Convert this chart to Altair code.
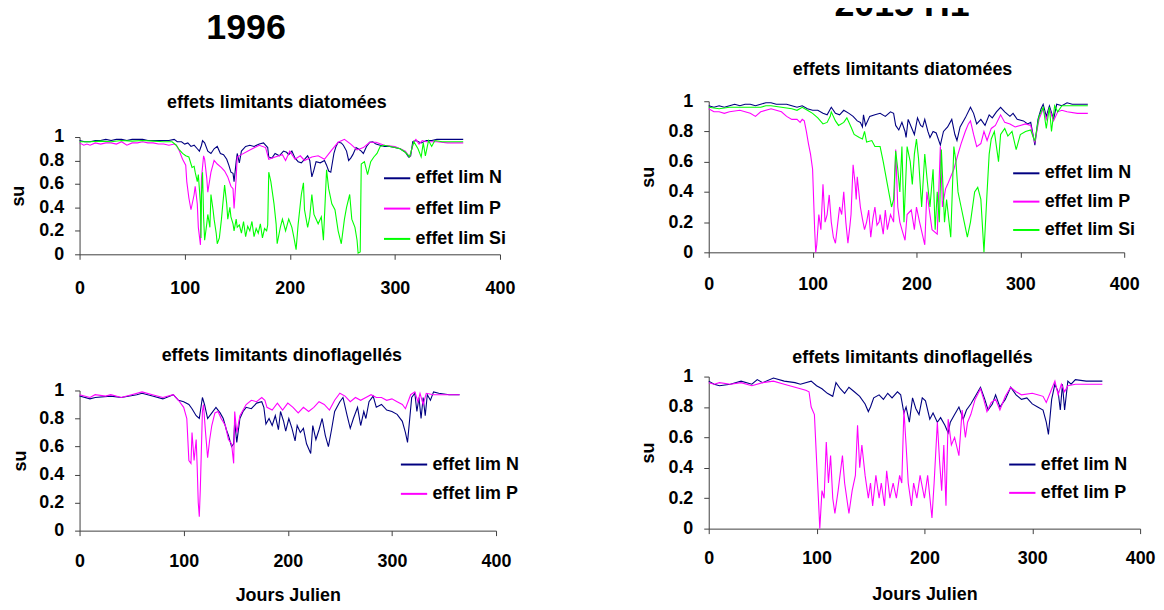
import altair as alt
import pandas as pd

SERIES = ["effet lim N", "effet lim P", "effet lim Si"]
COLORS = ["#000080", "#FF00FF", "#00FF00"]
X_TICKS = [0, 100, 200, 300, 400]
Y_TICKS = [0, 0.2, 0.4, 0.6, 0.8, 1]

# ---------- 1996, diatomées ----------
dia96_N_days = [0, 5, 10, 15, 20, 25, 30, 35, 40, 45, 50, 55, 60, 65, 70, 75, 80, 85, 90, 93, 97, 100, 103, 106, 109, 112, 114, 116, 117, 119, 122, 125, 128, 131, 134, 137, 140, 142, 144, 146, 147, 149, 150, 152, 154, 158, 162, 166, 171, 175, 179, 180, 183, 186, 190, 194, 197, 199, 202, 205, 208, 211, 214, 217, 219, 221, 223, 225, 229, 233, 235, 237, 239, 242, 244, 246, 249, 251, 254, 256, 258, 260, 263, 265, 268, 270, 273, 276, 279, 282, 286, 290, 295, 300, 305, 310, 313, 315, 317, 320, 325, 330, 335, 340, 345, 350, 355, 360, 365]
dia96_N_vals = [0.97, 0.96, 0.96, 0.97, 0.97, 0.98, 0.97, 0.98, 0.98, 0.97, 0.98, 0.98, 0.98, 0.97, 0.97, 0.97, 0.97, 0.97, 0.98, 0.96, 0.96, 0.94, 0.95, 0.92, 0.93, 0.90, 0.88, 0.93, 0.97, 0.95, 0.88, 0.86, 0.90, 0.92, 0.86, 0.85, 0.81, 0.76, 0.70, 0.69, 0.62, 0.79, 0.86, 0.78, 0.88, 0.92, 0.93, 0.92, 0.94, 0.95, 0.91, 0.83, 0.82, 0.86, 0.84, 0.88, 0.87, 0.85, 0.88, 0.82, 0.79, 0.78, 0.81, 0.84, 0.80, 0.66, 0.72, 0.79, 0.78, 0.80, 0.76, 0.71, 0.70, 0.86, 0.92, 0.955, 0.95, 0.93, 0.88, 0.80, 0.82, 0.85, 0.91, 0.90, 0.88, 0.86, 0.92, 0.955, 0.96, 0.94, 0.93, 0.92, 0.92, 0.91, 0.90, 0.87, 0.83, 0.84, 0.96, 0.97, 0.95, 0.97, 0.97, 0.98, 0.98, 0.98, 0.98, 0.98, 0.98]

dia96_P_days = [0, 4, 7, 10, 15, 20, 25, 30, 35, 40, 45, 50, 55, 60, 65, 70, 75, 80, 85, 90, 92, 95, 98, 101, 102, 104, 106, 109, 110, 112, 113, 115, 116, 118, 119, 121, 122, 125, 128, 131, 135, 138, 141, 144, 146, 147, 149, 150, 154, 162, 171, 177, 180, 186, 193, 196, 200, 205, 210, 214, 221, 227, 233, 240, 246, 252, 258, 264, 270, 276, 282, 290, 300, 305, 310, 314, 318, 320, 323, 326, 330, 340, 350, 365]
dia96_P_vals = [0.95, 0.93, 0.94, 0.93, 0.95, 0.94, 0.95, 0.95, 0.94, 0.96, 0.93, 0.95, 0.95, 0.96, 0.95, 0.95, 0.94, 0.94, 0.93, 0.94, 0.93, 0.88, 0.81, 0.76, 0.62, 0.48, 0.38, 0.51, 0.58, 0.43, 0.23, 0.08, 0.65, 0.84, 0.81, 0.65, 0.53, 0.70, 0.80, 0.77, 0.74, 0.71, 0.66, 0.58, 0.56, 0.39, 0.65, 0.83, 0.85, 0.89, 0.93, 0.91, 0.81, 0.83, 0.85, 0.80, 0.88, 0.81, 0.84, 0.80, 0.83, 0.84, 0.81, 0.89, 0.955, 0.98, 0.94, 0.89, 0.91, 0.955, 0.955, 0.93, 0.92, 0.90, 0.88, 0.83, 0.96, 0.98, 0.94, 0.97, 0.96, 0.96, 0.95, 0.95]

dia96_Si_days = [0, 10, 20, 30, 40, 50, 60, 70, 80, 88, 92, 95, 98, 101, 104, 107, 109, 110, 112, 113, 115, 115.5, 116, 117, 118, 119, 121, 122, 124, 125, 127, 128, 130, 131, 133, 135, 136, 138, 140, 141, 143, 144, 146, 147, 149, 150, 152, 154, 156, 158, 160, 162, 164, 166, 168, 170, 172, 174, 176, 178, 179, 180, 182, 185, 187, 188, 191, 193, 196, 199, 202, 204, 206, 208, 211, 213, 214, 217, 219, 221, 223, 227, 230, 232, 235, 237, 240, 243, 246, 249, 252, 254, 257, 259, 262, 264, 265, 267, 268, 271, 274, 277, 280, 283, 286, 290, 300, 305, 310, 314, 318, 322, 325, 327, 329, 332, 335, 338, 345, 355, 365]
dia96_Si_vals = [0.96, 0.96, 0.965, 0.96, 0.97, 0.965, 0.97, 0.965, 0.96, 0.96, 0.93, 0.89, 0.86, 0.84, 0.83, 0.74, 0.75, 0.70, 0.62, 0.68, 0.43, 0.14, 0.51, 0.70, 0.32, 0.12, 0.26, 0.34, 0.23, 0.51, 0.38, 0.30, 0.18, 0.09, 0.14, 0.30, 0.40, 0.59, 0.43, 0.30, 0.40, 0.32, 0.26, 0.20, 0.30, 0.23, 0.25, 0.18, 0.28, 0.15, 0.24, 0.20, 0.28, 0.15, 0.22, 0.18, 0.26, 0.14, 0.22, 0.20, 0.25, 0.70, 0.62, 0.43, 0.26, 0.09, 0.23, 0.30, 0.20, 0.30, 0.23, 0.14, 0.04, 0.26, 0.51, 0.61, 0.38, 0.23, 0.32, 0.51, 0.34, 0.26, 0.32, 0.12, 0.72, 0.56, 0.43, 0.38, 0.20, 0.09, 0.30, 0.40, 0.51, 0.30, 0.23, 0.12, 0.01, 0.02, 0.77, 0.79, 0.68, 0.79, 0.83, 0.86, 0.92, 0.93, 0.91, 0.90, 0.87, 0.83, 0.96, 0.90, 0.83, 0.95, 0.84, 0.97, 0.92, 0.97, 0.96, 0.96, 0.96]

# ---------- 2015 H1, diatomées ----------
dia15_N_days = [0, 5, 10, 15, 20, 25, 30, 35, 40, 45, 50, 55, 60, 65, 70, 75, 80, 85, 90, 95, 100, 105, 110, 114, 118, 122, 126, 130, 135, 139, 143, 146, 148, 149, 151, 155, 160, 165, 170, 175, 178, 180, 183, 186, 189, 190, 192, 195, 198, 201, 204, 206, 208, 211, 213, 216, 219, 223, 226, 230, 234, 237, 239, 242, 247, 252, 255, 258, 262, 266, 270, 273, 277, 281, 285, 290, 293, 297, 303, 307, 310, 313, 314, 317, 320, 322, 325, 328, 332, 335, 340, 345, 350, 355, 360, 365]
dia15_N_vals = [0.97, 0.96, 0.97, 0.96, 0.97, 0.98, 0.97, 0.98, 0.98, 0.97, 0.98, 0.99, 0.99, 0.98, 0.98, 0.98, 0.97, 0.96, 0.97, 0.95, 0.94, 0.94, 0.92, 0.91, 0.96, 0.92, 0.91, 0.94, 0.92, 0.90, 0.87, 0.86, 0.83, 0.91, 0.84, 0.90, 0.91, 0.92, 0.90, 0.93, 0.92, 0.84, 0.81, 0.86, 0.80, 0.76, 0.88, 0.83, 0.78, 0.89, 0.84, 0.83, 0.88, 0.80, 0.76, 0.80, 0.79, 0.71, 0.80, 0.83, 0.88, 0.78, 0.74, 0.83, 0.89, 0.96, 0.92, 0.85, 0.88, 0.84, 0.91, 0.89, 0.93, 0.96, 0.93, 0.90, 0.92, 0.88, 0.87, 0.85, 0.86, 0.75, 0.71, 0.88, 0.95, 0.98, 0.90, 0.97, 0.88, 0.98, 0.97, 0.99, 0.98, 0.98, 0.98, 0.98]

dia15_P_days = [0, 5, 10, 15, 20, 30, 40, 45, 50, 60, 70, 75, 80, 85, 88, 90, 92, 94, 96, 98, 100, 101, 102, 103, 104, 106, 108, 110, 112, 114, 116, 118, 120, 122, 124, 126, 128, 130, 132, 134, 136, 137, 139, 141, 142, 143, 146, 148, 150, 152, 154, 156, 158, 160, 162, 164, 165, 168, 170, 172, 175, 178, 180, 182, 184, 186, 189, 191, 195, 198, 200, 203, 208, 210, 212, 215, 220, 223, 225, 228, 230, 233, 236, 240, 243, 247, 250, 252, 255, 258, 262, 265, 268, 272, 276, 281, 285, 290, 295, 300, 305, 310, 313, 314, 318, 322, 325, 328, 332, 336, 340, 345, 355, 365]
dia15_P_vals = [0.95, 0.93, 0.93, 0.92, 0.93, 0.94, 0.92, 0.90, 0.93, 0.95, 0.93, 0.90, 0.88, 0.88, 0.86, 0.88, 0.87, 0.80, 0.72, 0.65, 0.55, 0.35, 0.15, 0.0, 0.05, 0.25, 0.15, 0.45, 0.20, 0.25, 0.38, 0.20, 0.10, 0.06, 0.18, 0.30, 0.25, 0.40, 0.20, 0.06, 0.18, 0.25, 0.58, 0.45, 0.35, 0.50, 0.30, 0.22, 0.15, 0.20, 0.28, 0.10, 0.22, 0.30, 0.18, 0.20, 0.25, 0.12, 0.28, 0.15, 0.25, 0.20, 0.68, 0.30, 0.20, 0.15, 0.08, 0.25, 0.28, 0.15, 0.30, 0.20, 0.05, 0.40, 0.30, 0.15, 0.12, 0.70, 0.30, 0.42, 0.45, 0.50, 0.55, 0.65, 0.72, 0.80, 0.85, 0.87, 0.78, 0.70, 0.72, 0.80, 0.74, 0.82, 0.84, 0.91, 0.86, 0.85, 0.83, 0.84, 0.85, 0.84, 0.75, 0.73, 0.88, 0.95, 0.88, 0.95, 0.87, 0.93, 0.94, 0.93, 0.92, 0.92]

dia15_Si_days = [0, 10, 20, 30, 40, 50, 55, 60, 70, 80, 85, 90, 95, 100, 105, 110, 114, 117, 118, 122, 125, 130, 133, 137, 140, 145, 148, 150, 152, 157, 160, 165, 168, 172, 176, 178, 180, 182, 184, 186, 188, 191, 194, 196, 198, 200, 202, 205, 208, 210, 213, 216, 218, 220, 222, 224, 227, 229, 233, 236, 238, 240, 243, 246, 249, 252, 256, 259, 262, 265, 268, 270, 272, 275, 277, 279, 281, 285, 288, 292, 296, 300, 305, 310, 313, 314, 318, 322, 325, 328, 330, 333, 336, 340, 350, 365]
dia15_Si_vals = [0.96, 0.95, 0.96, 0.96, 0.96, 0.96, 0.97, 0.97, 0.96, 0.95, 0.94, 0.96, 0.94, 0.92, 0.89, 0.85, 0.86, 0.90, 0.93, 0.87, 0.84, 0.86, 0.89, 0.83, 0.78, 0.76, 0.75, 0.80, 0.73, 0.74, 0.70, 0.70, 0.60, 0.45, 0.30, 0.35, 0.67, 0.55, 0.40, 0.70, 0.20, 0.70, 0.60, 0.45, 0.65, 0.75, 0.62, 0.30, 0.65, 0.50, 0.30, 0.55, 0.15, 0.40, 0.20, 0.68, 0.20, 0.35, 0.10, 0.70, 0.60, 0.40, 0.30, 0.20, 0.10, 0.20, 0.40, 0.43, 0.35, 0.0, 0.40, 0.65, 0.75, 0.80, 0.70, 0.60, 0.78, 0.82, 0.77, 0.80, 0.68, 0.78, 0.80, 0.81, 0.75, 0.74, 0.90, 0.96, 0.82, 0.96, 0.80, 0.97, 0.93, 0.97, 0.97, 0.97]

# ---------- 1996, dinoflagellés ----------
din96_N_days = [0, 10, 15, 30, 40, 55, 60, 70, 80, 90, 95, 100, 105, 108, 112, 115, 118, 120, 123, 126, 131, 135, 138, 141, 143, 146, 148, 149, 151, 154, 157, 160, 165, 170, 175, 177, 179, 182, 185, 188, 191, 193, 196, 198, 201, 204, 207, 209, 212, 215, 218, 222, 224, 227, 230, 233, 236, 239, 242, 245, 250, 253, 257, 260, 263, 267, 270, 273, 275, 278, 282, 285, 290, 295, 300, 305, 310, 313, 315, 319, 322, 324, 326, 328, 330, 332, 334, 337, 340, 345, 355, 365]
din96_N_vals = [0.96, 0.94, 0.95, 0.96, 0.95, 0.97, 0.98, 0.96, 0.94, 0.97, 0.93, 0.92, 0.90, 0.87, 0.82, 0.80, 0.95, 0.90, 0.80, 0.83, 0.88, 0.84, 0.80, 0.72, 0.68, 0.60, 0.62, 0.78, 0.63, 0.80, 0.85, 0.88, 0.87, 0.91, 0.92, 0.88, 0.76, 0.80, 0.75, 0.82, 0.72, 0.85, 0.78, 0.71, 0.80, 0.73, 0.64, 0.75, 0.70, 0.73, 0.62, 0.55, 0.75, 0.65, 0.72, 0.80, 0.68, 0.60, 0.72, 0.85, 0.92, 0.95, 0.82, 0.73, 0.80, 0.88, 0.75, 0.85, 0.80, 0.92, 0.96, 0.88, 0.90, 0.86, 0.85, 0.83, 0.78, 0.70, 0.63, 0.95, 0.98, 0.85, 0.95, 0.80, 0.95, 0.82, 0.97, 0.93, 0.99, 0.98, 0.97, 0.97]

din96_P_days = [0, 10, 15, 25, 30, 40, 50, 60, 70, 80, 90, 95, 100, 103, 105, 107, 108, 110, 112, 113, 114, 115, 116, 118, 119, 121, 123, 125, 127, 130, 133, 136, 140, 143, 146, 148, 149, 151, 154, 160, 165, 170, 175, 178, 180, 185, 190, 195, 200, 205, 210, 215, 220, 225, 230, 235, 240, 245, 250, 255, 260, 265, 270, 275, 280, 285, 290, 295, 300, 305, 310, 313, 318, 322, 325, 327, 330, 333, 340, 350, 365]
din96_P_vals = [0.97, 0.95, 0.97, 0.96, 0.97, 0.95, 0.97, 0.99, 0.97, 0.95, 0.97, 0.93, 0.88, 0.80, 0.50, 0.48, 0.70, 0.50, 0.65, 0.45, 0.20, 0.10, 0.30, 0.85, 0.90, 0.70, 0.52, 0.65, 0.75, 0.84, 0.85, 0.80, 0.75, 0.65, 0.62, 0.48, 0.85, 0.70, 0.82, 0.90, 0.93, 0.92, 0.95, 0.93, 0.88, 0.86, 0.91, 0.86, 0.91, 0.88, 0.84, 0.88, 0.85, 0.88, 0.92, 0.90, 0.86, 0.93, 0.98, 0.96, 0.92, 0.95, 0.93, 0.95, 0.97, 0.95, 0.95, 0.93, 0.94, 0.92, 0.90, 0.87, 0.97, 0.99, 0.92, 0.98, 0.90, 0.98, 0.97, 0.97, 0.97]

# ---------- 2015 H1, dinoflagellés ----------
din15_N_days = [0, 5, 10, 20, 30, 40, 45, 50, 60, 70, 80, 85, 95, 100, 105, 110, 115, 118, 122, 126, 130, 135, 140, 145, 148, 150, 153, 158, 162, 166, 170, 175, 178, 181, 183, 186, 189, 192, 195, 198, 201, 205, 208, 212, 215, 219, 222, 224, 228, 232, 236, 239, 243, 248, 252, 256, 259, 263, 266, 270, 275, 280, 285, 290, 295, 300, 305, 310, 313, 315, 318, 321, 324, 326, 328, 330, 333, 336, 340, 350, 365]
din15_N_vals = [0.97, 0.95, 0.94, 0.95, 0.97, 0.95, 0.98, 0.96, 0.99, 0.97, 0.96, 0.95, 0.97, 0.94, 0.92, 0.89, 0.87, 0.96, 0.92, 0.89, 0.93, 0.90, 0.87, 0.82, 0.77, 0.80, 0.86, 0.88, 0.85, 0.89, 0.86, 0.90, 0.88, 0.76, 0.80, 0.70, 0.86, 0.79, 0.75, 0.86, 0.84, 0.72, 0.76, 0.70, 0.73, 0.68, 0.63, 0.70, 0.75, 0.80, 0.72, 0.78, 0.82, 0.88, 0.93, 0.85, 0.78, 0.82, 0.88, 0.80, 0.85, 0.93, 0.88, 0.85, 0.86, 0.82, 0.80, 0.78, 0.70, 0.62, 0.85, 0.95, 0.90, 0.78, 0.95, 0.78, 0.97, 0.95, 0.98, 0.97, 0.97]

din15_P_days = [0, 5, 10, 20, 30, 40, 50, 60, 70, 80, 90, 93, 95, 98, 99, 100, 102, 103, 105, 107, 109, 111, 113, 115, 117, 120, 124, 126, 130, 133, 136, 138, 140, 142, 145, 148, 150, 152, 155, 158, 160, 163, 165, 168, 171, 174, 177, 179, 181, 183, 185, 188, 190, 193, 196, 200, 203, 207, 209, 212, 214, 216, 218, 220, 222, 225, 228, 232, 235, 238, 240, 243, 247, 252, 255, 258, 262, 266, 270, 275, 280, 285, 290, 300, 305, 310, 313, 317, 321, 324, 327, 330, 333, 340, 350, 365]
din15_P_vals = [0.96, 0.95, 0.96, 0.95, 0.96, 0.94, 0.96, 0.97, 0.95, 0.93, 0.91, 0.90, 0.80, 0.75, 0.60, 0.45, 0.15, 0.0, 0.25, 0.20, 0.57, 0.30, 0.48, 0.20, 0.10, 0.25, 0.48, 0.30, 0.10, 0.25, 0.35, 0.68, 0.40, 0.55, 0.35, 0.20, 0.30, 0.15, 0.35, 0.20, 0.30, 0.15, 0.38, 0.20, 0.30, 0.20, 0.35, 0.30, 0.78, 0.55, 0.30, 0.15, 0.30, 0.20, 0.35, 0.20, 0.35, 0.07, 0.30, 0.70, 0.45, 0.25, 0.55, 0.15, 0.72, 0.55, 0.60, 0.48, 0.78, 0.60, 0.70, 0.75, 0.85, 0.92, 0.85, 0.77, 0.83, 0.85, 0.78, 0.87, 0.93, 0.90, 0.88, 0.89, 0.88, 0.87, 0.83, 0.90, 0.97, 0.88, 0.95, 0.90, 0.94, 0.95, 0.95, 0.95]


def frame(days, vals, name):
    return pd.DataFrame({"day": days, "val": vals, "serie": name})


def panel(frames, n_series, width, height, top_gap, title, title_dx, title_offset,
          legend_x, legend_y, row_pad, x_title, x_label_pad, x_title_pad, y_title_pad):
    df = pd.concat(frames, ignore_index=True)
    names = SERIES[:n_series]
    cols = COLORS[:n_series]
    x_axis = alt.Axis(values=X_TICKS, labelFlush=False, labelPadding=x_label_pad,
                      titlePadding=x_title_pad)
    total_h = height + top_gap
    return alt.Chart(df).mark_line(strokeWidth=1.1).encode(
        x=alt.X("day:Q", scale=alt.Scale(domain=[0, 400], nice=False, zero=False),
                axis=x_axis, title=x_title),
        y=alt.Y("val:Q", scale=alt.Scale(domain=[0, 1], nice=False, range=[total_h, top_gap]),
                axis=alt.Axis(values=Y_TICKS, format="~g", labelPadding=11,
                              titlePadding=y_title_pad),
                title="su"),
        color=alt.Color("serie:N", scale=alt.Scale(domain=names, range=cols),
                        legend=alt.Legend(orient="none", legendX=legend_x,
                                          legendY=legend_y + top_gap,
                                          title=None, symbolType="stroke", symbolSize=700,
                                          symbolStrokeWidth=2, labelOffset=4,
                                          rowPadding=row_pad, padding=0)),
    ).properties(
        width=width, height=total_h,
        title=alt.TitleParams(title, fontSize=18, dx=title_dx,
                              offset=title_offset, frame="group", anchor="middle"),
    )


tl = panel([frame(dia96_N_days, dia96_N_vals, SERIES[0]),
            frame(dia96_P_days, dia96_P_vals, SERIES[1]),
            frame(dia96_Si_days, dia96_Si_vals, SERIES[2])], 3,
           423, 118, 36, "effets limitants diatomées", -13, -11, 305, 27, 6.5,
           None, 20, 12, 11)
bl = panel([frame(din96_N_days, din96_N_vals, SERIES[0]),
            frame(din96_P_days, din96_P_vals, SERIES[1])], 2,
           419, 141, 0, "effets limitants dinoflagellés", -6, 17, 322, 60, 5.5,
           "Jours Julien", 17, 16, 9)
tr = panel([frame(dia15_N_days, dia15_N_vals, SERIES[0]),
            frame(dia15_P_days, dia15_P_vals, SERIES[1]),
            frame(dia15_Si_days, dia15_Si_vals, SERIES[2])], 3,
           418, 152, 0, "effets limitants diatomées", -14, 13, 305, 58, 4.5,
           None, 18, 12, 11)
br = panel([frame(din15_N_days, din15_N_vals, SERIES[0]),
            frame(din15_P_days, din15_P_vals, SERIES[1])], 2,
           434, 153, 0, "effets limitants dinoflagellés", -12, 1, 301, 74, 4.5,
           "Jours Julien", 16, 18, 11)

left = alt.vconcat(tl, bl, spacing=50, title=alt.TitleParams(
    "1996", fontSize=36, offset=48, dx=-19, anchor="middle")
).resolve_scale(color="independent").resolve_legend(color="independent")
right = alt.vconcat(tr, br, spacing=56, title=alt.TitleParams(
    "2015 H1", fontSize=36, offset=38, dx=5, anchor="middle")
).resolve_scale(color="independent").resolve_legend(color="independent")

chart = alt.hconcat(left, right, spacing=119).resolve_scale(
    color="independent").resolve_legend(color="independent").properties(
    padding={"left": 1, "top": -23, "right": 0, "bottom": -2}
).configure(font="Liberation Sans").configure_view(stroke=None).configure_axis(
    grid=False, domainColor="#404040", tickColor="#404040", tickSize=5,
    labelFont="Liberation Sans", labelFontSize=18, labelFontWeight="bold", labelColor="black",
    titleFont="Liberation Sans", titleFontSize=18, titleFontWeight="bold", titleColor="black",
).configure_legend(
    labelFont="Liberation Sans", labelFontSize=18, labelFontWeight="bold", labelColor="black",
).configure_title(
    font="Liberation Sans", fontWeight="bold", color="black",
)

chart.save("out.html", embed_options={"renderer": "svg", "actions": False})
